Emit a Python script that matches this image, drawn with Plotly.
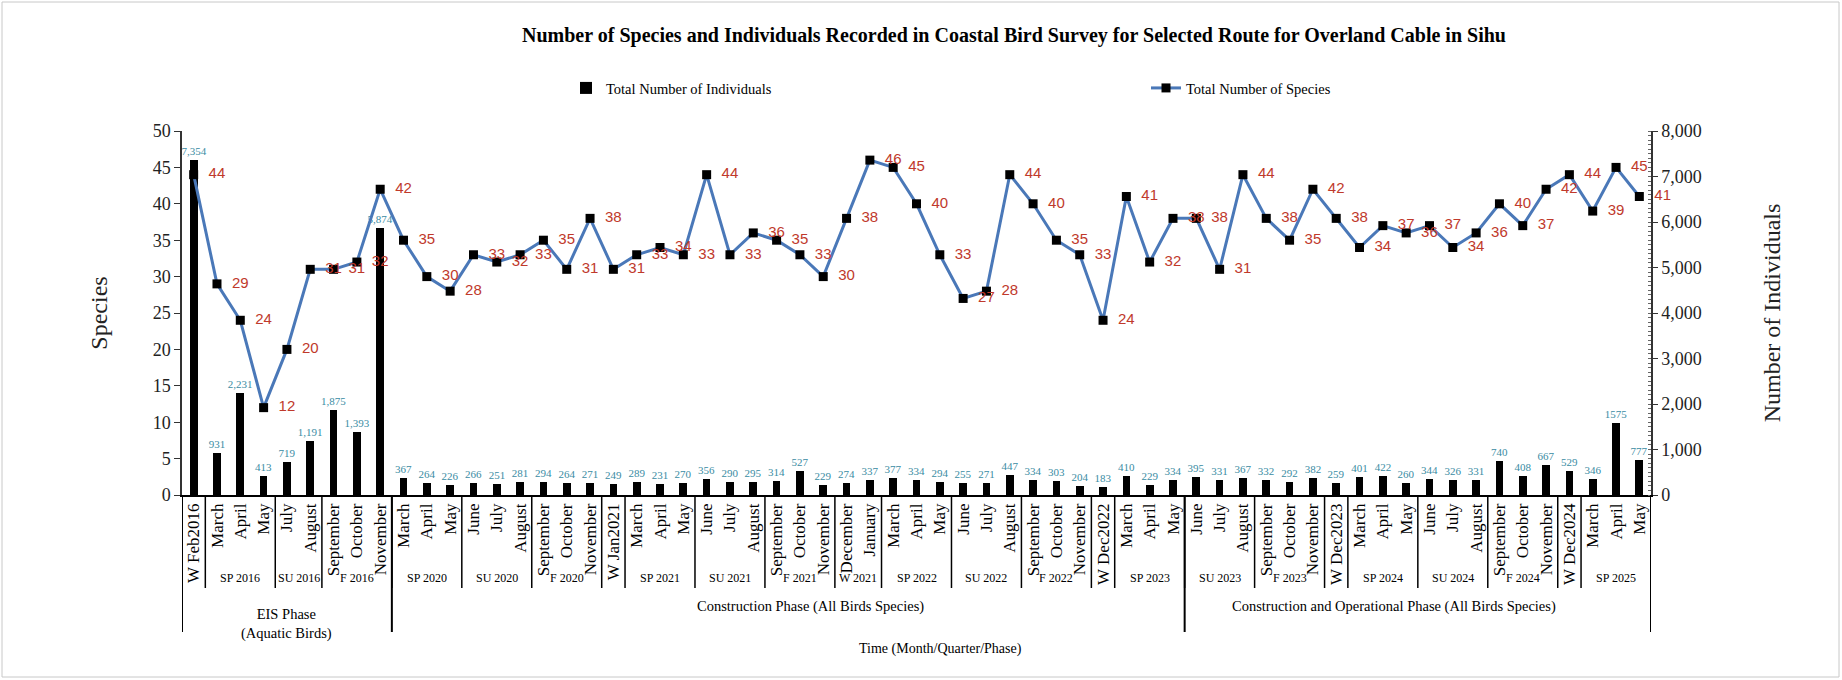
import plotly.graph_objects as go

# ---- survey data -----------------------------------------------------------
months_eis = ["W Feb2016", "March", "April", "May", "July", "August",
              "September", "October", "November"]
months_construction = ["March", "April", "May", "June", "July", "August",
                       "September", "October", "November", "W Jan2021",
                       "March", "April", "May", "June", "July", "August",
                       "September", "October", "November", "December", "January",
                       "March", "April", "May", "June", "July", "August",
                       "September", "October", "November", "W Dec2022",
                       "March", "April", "May"]
months_operational = ["June", "July", "August", "September", "October", "November",
                      "W Dec2023", "March", "April", "May", "June", "July", "August",
                      "September", "October", "November", "W Dec2024",
                      "March", "April", "May"]

species_eis = [44, 29, 24, 12, 20, 31, 31, 32, 42]
species_construction = [35, 30, 28, 33, 32, 33, 35, 31, 38, 31, 33, 34, 33, 44, 33, 36,
                        35, 33, 30, 38, 46, 45, 40, 33, 27, 28, 44, 40, 35, 33, 24,
                        41, 32, 38]
species_operational = [38, 31, 44, 38, 35, 42, 38, 34, 37, 36, 37, 34, 36, 40, 37, 42,
                       44, 39, 45, 41]

individuals_eis = [7354, 931, 2231, 413, 719, 1191, 1875, 1393, 5874]
individuals_construction = [367, 264, 226, 266, 251, 281, 294, 264, 271, 249, 289, 231,
                            270, 356, 290, 295, 314, 527, 229, 274, 337, 377, 334, 294,
                            255, 271, 447, 334, 303, 204, 183, 410, 229, 334]
individuals_operational = [395, 331, 367, 332, 292, 382, 259, 401, 422, 260, 344, 326,
                           331, 740, 408, 667, 529, 346, 1575, 777]

quarter_labels = ["", "SP 2016", "SU 2016", "F 2016",
                  "SP 2020", "SU 2020", "F 2020", "", "SP 2021", "SU 2021", "F 2021",
                  "W 2021", "SP 2022", "SU 2022", "F 2022", "", "SP 2023",
                  "SU 2023", "F 2023", "", "SP 2024", "SU 2024", "F 2024", "", "SP 2025"]
quarter_sizes = [1, 3, 2, 3,
                 3, 3, 3, 1, 3, 3, 3, 2, 3, 3, 3, 1, 3,
                 3, 3, 1, 3, 3, 3, 1, 3]

phase_labels = ["EIS Phase<br>(Aquatic Birds)",
                "Construction Phase (All Birds Species)",
                "Construction and Operational Phase (All Birds Species)"]
phase_sizes = [len(months_eis), len(months_construction), len(months_operational)]
phase_label_shift = [0, 22, -24]   # px nudges for the phase captions

months = months_eis + months_construction + months_operational
species = species_eis + species_construction + species_operational
individuals = individuals_eis + individuals_construction + individuals_operational
x_idx = list(range(len(months)))

# bar labels: the EIS-phase report used thousands separators
individual_text = ([f"{v:,}" for v in individuals_eis]
                   + [str(v) for v in individuals_construction + individuals_operational])

# ---- page geometry (pixels) ------------------------------------------------
W, H = 1842, 680
L, R, T, B = 182, 1651, 131, 495


def py(p):
    """pixel row -> paper y"""
    return (B - p) / (B - T)


def px(p):
    """pixel column -> paper x"""
    return (p - L) / (R - L)


SERIF = "Liberation Serif, Times New Roman, serif"
SANS = "Liberation Sans, Arial, sans-serif"
NBSP = "\u00a0"

fig = go.Figure()

fig.add_trace(go.Bar(
    x=x_idx, y=individuals, yaxis="y", width=0.33,
    marker=dict(color="black", line=dict(width=0)),
    name="Total Number of Individuals", legend="legend", showlegend=True,
    text=individual_text, textposition="outside", constraintext="none",
    textfont=dict(family=SERIF, size=11, color="#3a8ca3"),
    cliponaxis=False,
))

fig.add_trace(go.Scatter(
    x=x_idx, y=species, yaxis="y2", mode="lines+markers+text",
    line=dict(color="#4a78b8", width=3),
    marker=dict(symbol="square", size=9, color="black"),
    name="Total Number of Species", legend="legend2", showlegend=True,
    text=[NBSP * 2 + str(v) for v in species], textposition="middle right",
    textfont=dict(family=SANS, size=15, color="#c0392b"),
    cliponaxis=False,
))

# ---- category grouping: quarters and phases --------------------------------
shapes = []
annotations = []

start = 0
for lab, n in zip(quarter_labels, quarter_sizes):
    if lab:
        annotations.append(dict(
            x=start + (n - 1) / 2, xref="x", y=py(578), yref="paper",
            text=lab, showarrow=False, font=dict(family=SERIF, size=12, color="black"),
            yanchor="middle"))
    start += n
    shapes.append(dict(type="line", xref="x", yref="paper",
                       x0=start - 0.5, x1=start - 0.5, y0=0, y1=py(588),
                       line=dict(color="black", width=1.5)))

phase_bounds = [-0.5]
start = 0
for lab, n, dx in zip(phase_labels, phase_sizes, phase_label_shift):
    annotations.append(dict(
        x=start + (n - 1) / 2, xref="x", xshift=dx,
        y=py(606 if "<br>" not in lab else 624),
        yref="paper", text=lab, showarrow=False,
        font=dict(family=SERIF, size=14.5, color="black"), yanchor="middle"))
    start += n
    phase_bounds.append(start - 0.5)

for b in phase_bounds:
    shapes.append(dict(type="line", xref="x", yref="paper",
                       x0=b, x1=b, y0=0, y1=py(632),
                       line=dict(color="black", width=2)))

annotations.append(dict(
    x=px(940), xref="paper", y=py(649), yref="paper",
    text="Time (Month/Quarter/Phase)", showarrow=False,
    font=dict(family=SERIF, size=14, color="black"), yanchor="middle"))

# light frame around the chart area
shapes.append(dict(type="rect", xref="paper", yref="paper",
                   x0=px(2), x1=px(W - 3), y0=py(H - 3), y1=py(2),
                   line=dict(color="#c8c8c8", width=1)))

fig.update_layout(
    width=W, height=H, showlegend=True,
    margin=dict(l=L, r=W - R, t=T, b=H - B, autoexpand=False),
    paper_bgcolor="white", plot_bgcolor="white",
    title=dict(
        text="<b>Number of Species and Individuals Recorded in Coastal Bird Survey "
             "for Selected Route for Overland Cable in Sihu</b>",
        x=1014 / W, xanchor="center", y=1 - 35 / H, yanchor="middle",
        font=dict(family=SERIF, size=20, color="black")),
    xaxis=dict(
        range=[-0.5, len(months) - 0.5], tickmode="array",
        tickvals=x_idx, ticktext=months, tickangle=-90,
        tickfont=dict(family=SERIF, size=17, color="black"),
        showline=True, linecolor="black", linewidth=1.5,
        ticks="", showgrid=False, zeroline=False),
    yaxis=dict(
        side="right", range=[0, 8000], dtick=1000, tickformat=",",
        showline=True, linecolor="#333", linewidth=1.5,
        ticks="outside", ticklen=5, tickcolor="#333",
        minor=dict(dtick=100, ticks="inside", ticklen=3, tickcolor="#666"),
        tickfont=dict(family=SERIF, size=18, color="#222"),
        title=dict(text="Number of Individuals", standoff=62,
                   font=dict(family=SERIF, size=24, color="#222")),
        showgrid=False, zeroline=False),
    yaxis2=dict(
        overlaying="y", side="left", range=[0, 50], dtick=5,
        showline=True, linecolor="#333", linewidth=1.5,
        ticks="outside", ticklen=6, tickcolor="#333",
        tickfont=dict(family=SERIF, size=18, color="#222"),
        title=dict(text="Species", standoff=38,
                   font=dict(family=SERIF, size=24, color="#222")),
        showgrid=False, zeroline=False),
    legend=dict(orientation="h", x=px(566), y=py(88), xanchor="left", yanchor="middle",
                font=dict(family=SERIF, size=14.5, color="black"), bgcolor="rgba(0,0,0,0)"),
    legend2=dict(orientation="h", x=px(1146), y=py(88), xanchor="left", yanchor="middle",
                 font=dict(family=SERIF, size=14.5, color="black"), bgcolor="rgba(0,0,0,0)"),
    shapes=shapes, annotations=annotations,
    bargap=0,
)

fig.write_html("out.html")
